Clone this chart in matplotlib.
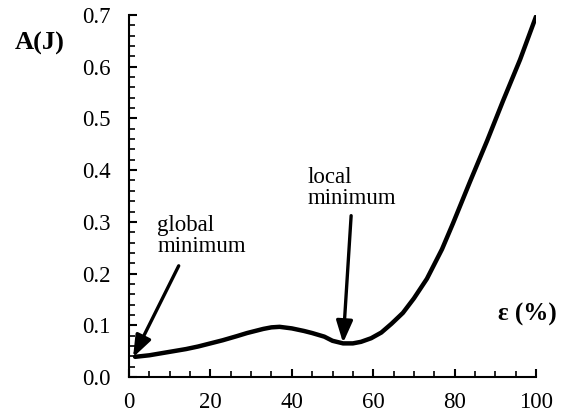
import matplotlib
matplotlib.use("Agg")
import matplotlib.pyplot as plt
from matplotlib.ticker import MultipleLocator, FormatStrFormatter

strain = [1.5, 5, 8, 11, 14, 17, 20, 23, 26.5, 29, 31, 33, 35, 37, 40, 43, 45, 48, 50, 52.6,
          55, 57, 59.5, 62, 64.5, 67.3, 70, 73.2, 76.9, 79.6, 83.8, 88, 91.9, 96.1, 100]
energy = [0.039, 0.042, 0.046, 0.050, 0.054, 0.059, 0.065, 0.071, 0.079, 0.085, 0.089, 0.093, 0.096, 0.097, 0.094, 0.089, 0.085, 0.078, 0.070, 0.065,
          0.065, 0.068, 0.075, 0.086, 0.103, 0.124, 0.152, 0.190, 0.247, 0.297, 0.378, 0.457, 0.534, 0.614, 0.697]

xticks = [0, 20, 40, 60, 80, 100]
yticks = [0.0, 0.1, 0.2, 0.3, 0.4, 0.5, 0.6, 0.7]

plt.rcParams['font.family'] = ['Liberation Serif', 'DejaVu Serif']

fig = plt.figure(figsize=(5.67, 4.17), dpi=100)
ax = fig.add_axes([129/567, 1-377/417, (536-129)/567, (377-15)/417])
ax.plot(strain, energy, color='black', lw=3.2, solid_capstyle='round', solid_joinstyle='round')
ax.set_xlim(0, 100)
ax.set_ylim(0, 0.7)
ax.set_xticks(xticks)
ax.set_yticks(yticks)
ax.yaxis.set_major_formatter(FormatStrFormatter('%.1f'))
ax.xaxis.set_minor_locator(MultipleLocator(5))
ax.yaxis.set_minor_locator(MultipleLocator(0.02))
for s in ['top', 'right']:
    ax.spines[s].set_visible(False)
for s in ['left', 'bottom']:
    ax.spines[s].set_linewidth(1.5)
ax.tick_params(which='major', direction='in', length=6, width=1.5, labelsize=16.5)
ax.tick_params(which='minor', direction='in', length=4, width=1.2)
ax.tick_params(axis='y', which='major', pad=13)
ax.tick_params(axis='x', which='major', pad=11)

fig.text(15/567, 1-43/417, 'A(J)', fontsize=19, fontweight='bold', va='center', ha='left')
fig.text(557/567, 1-314/417, 'ε (%)', fontsize=18, fontweight='bold', va='center', ha='right')

ax.annotate('global\nminimum', xy=(1.0, 0.038), xytext=(7, 0.273),
            fontsize=16.5, ha='left', va='center', linespacing=1.0,
            arrowprops=dict(arrowstyle='-|>,head_length=0.8,head_width=0.3', color='black', lw=2.4,
                            shrinkA=5, shrinkB=0, relpos=(0.29, 0)))
ax.annotate('local\nminimum', xy=(52.6, 0.066), xytext=(43.8, 0.366),
            fontsize=16.5, ha='left', va='center', linespacing=1.0,
            arrowprops=dict(arrowstyle='-|>,head_length=0.8,head_width=0.3', color='black', lw=2.4,
                            shrinkA=3, shrinkB=0, relpos=(0.5, 0)))

fig.savefig('out.png', dpi=100)
